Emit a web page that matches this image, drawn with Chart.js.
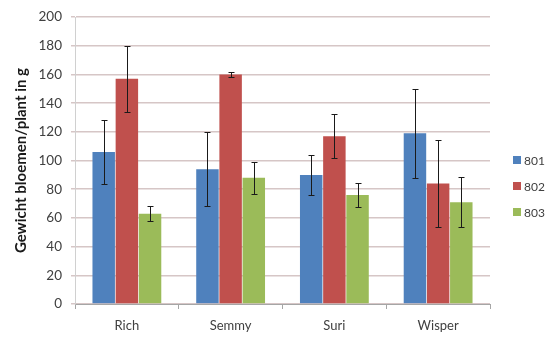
<!DOCTYPE html>
<html>
<head>
<meta charset="utf-8">
<script src="https://cdn.jsdelivr.net/npm/chart.js@4/dist/chart.umd.min.js"></script>
<style>
  html, body { margin: 0; padding: 0; background: #ffffff; }
  #wrap { width: 557px; height: 338px; }
</style>
</head>
<body>
<div id="wrap"><canvas id="c" width="557" height="338"></canvas></div>
<script>
// Cultivars on the x axis
const categories = ['Rich', 'Semmy', 'Suri', 'Wisper'];

// Mean flower weight per plant (g) per treatment
const series801 = [106, 94, 90, 119];
const series802 = [157, 160, 117, 84];
const series803 = [63, 88, 76, 71];

// Standard deviation shown as error bars
const err801 = [22.5, 26, 14, 31];
const err802 = [23, 1.5, 15.5, 30];
const err803 = [5, 11, 8.5, 17.5];

const seriesNames = ['801', '802', '803'];
const yTicks = [0, 20, 40, 60, 80, 100, 120, 140, 160, 180, 200];

const colors = ['#4f81bd', '#c0504d', '#9bbb59'];
const FONT = 'Lato, "Open Sans", "Liberation Sans", sans-serif';

// Draws vertical error bars with caps on every bar
const errorBars = {
  id: 'errorBars',
  afterDatasetsDraw(chart) {
    const ctx = chart.ctx;
    const y = chart.scales.y;
    ctx.save();
    ctx.strokeStyle = '#1a1a1a';
    ctx.lineWidth = 1;
    chart.data.datasets.forEach((ds, di) => {
      const meta = chart.getDatasetMeta(di);
      meta.data.forEach((bar, i) => {
        const v = ds.data[i];
        const e = ds.errors[i];
        const top = Math.round(y.getPixelForValue(v + e)) + 0.5;
        const bot = Math.round(y.getPixelForValue(v - e)) + 0.5;
        const x = Math.round(bar.x) + 0.5;
        ctx.beginPath();
        ctx.moveTo(x, top); ctx.lineTo(x, bot);
        ctx.moveTo(x - 3, top); ctx.lineTo(x + 3, top);
        ctx.moveTo(x - 3, bot); ctx.lineTo(x + 3, bot);
        ctx.stroke();
      });
    });
    ctx.restore();
  }
};

// Legend on the right: small coloured squares with series names
const sideLegend = {
  id: 'sideLegend',
  afterDraw(chart) {
    const ctx = chart.ctx;
    ctx.save();
    ctx.font = '12px ' + FONT;
    ctx.textBaseline = 'middle';
    chart.data.datasets.forEach((ds, i) => {
      const cy = 160 + i * 26;
      ctx.fillStyle = ds.backgroundColor;
      ctx.fillRect(513, cy - 4, 8, 8);
      ctx.fillStyle = '#404040';
      ctx.fillText(ds.label, 524, cy + 1);
    });
    ctx.restore();
  }
};

const datasets = [series801, series802, series803].map((d, i) => ({
  label: seriesNames[i],
  data: d,
  errors: [err801, err802, err803][i],
  backgroundColor: colors[i],
  borderWidth: 0,
  categoryPercentage: 0.67,
  barPercentage: 0.97
}));

new Chart(document.getElementById('c'), {
  type: 'bar',
  data: { labels: categories, datasets },
  options: {
    responsive: false,
    animation: false,
    devicePixelRatio: 1,
    layout: { padding: { top: 12, right: 67, bottom: 0, left: 0 } },
    plugins: {
      legend: { display: false },
      tooltip: { enabled: false }
    },
    scales: {
      x: {
        grid: {
          display: true,
          offset: true,
          drawOnChartArea: false,
          tickLength: 5,
          color: '#a6a6a6'
        },
        border: { color: '#a6a6a6', width: 1 },
        ticks: { color: '#404040', font: { family: FONT, size: 13 }, padding: 9 },
        afterFit(scale) { scale.height = 34; }
      },
      y: {
        min: 0,
        max: 200,
        afterBuildTicks(scale) { scale.ticks = yTicks.map(v => ({ value: v })); },
        grid: { color: '#d6c6c6', lineWidth: 1.5, tickLength: 4 },
        border: { color: '#d0d0d0', width: 1 },
        ticks: { color: '#404040', font: { family: FONT, size: 13.5 }, padding: 9 },
        title: {
          display: true,
          text: 'Gewicht bloemen/plant in g',
          color: '#1a1a1a',
          font: { family: FONT, size: 15, weight: 'bold' },
          padding: { top: 12, bottom: 0 }
        },
        afterFit(scale) { scale.width = 75; }
      }
    }
  },
  plugins: [errorBars, sideLegend]
});
</script>
</body>
</html>
